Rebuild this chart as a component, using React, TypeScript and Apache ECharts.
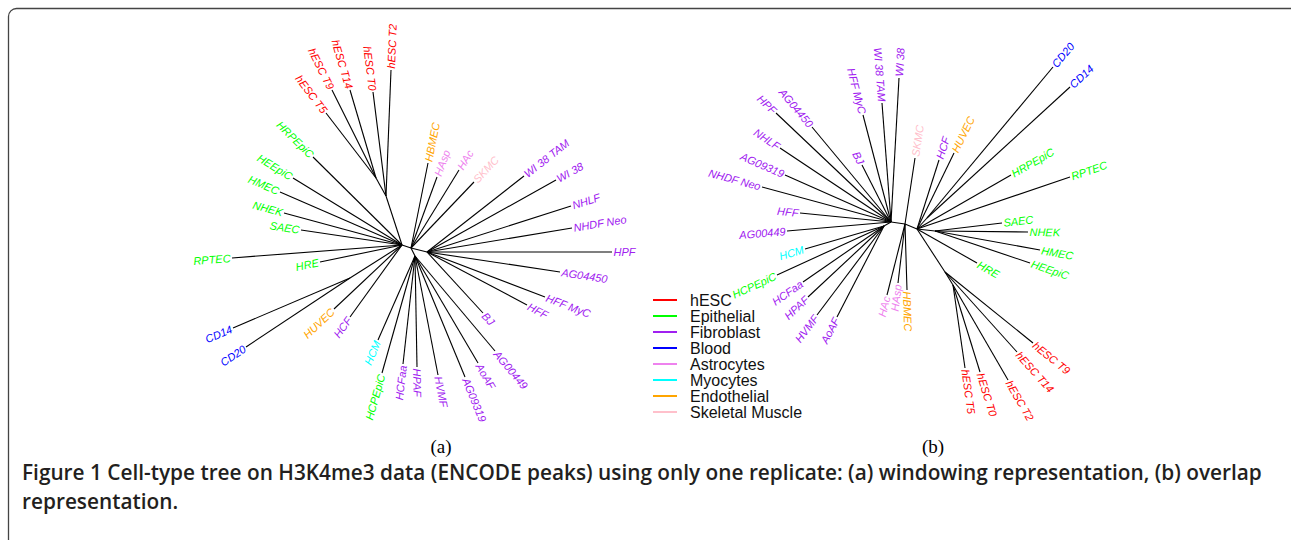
import React, { useEffect, useRef } from "react";
import * as echarts from "echarts";

// ---- groups / legend ----
const groups = ["hESC", "Epithelial", "Fibroblast", "Blood", "Astrocytes", "Myocytes", "Endothelial", "Skeletal Muscle"];
const groupColors = ["#FF0000", "#00FF00", "#A020F0", "#0000FF", "#EE82EE", "#00FFFF", "#FFA500", "#FFC0CB"];

// ---- panel (a): windowing representation ----
const aInnerNames = ["a0", "a1", "a2", "a3", "aH", "aH2", "aB"];
const aInnerX = [0, 9, 13, 25, -16, -26, -52];
const aInnerY = [0, -3, -11, -7, 49, 67, -33];
const aInnerParent = ["", "a0", "a1", "a1", "a0", "aH", "a0"];

const aLeafNames = [
  "hESC T2", "hESC T0", "hESC T14", "hESC T9", "hESC T5",
  "HRPEpiC", "HEEpiC", "HMEC", "NHEK", "SAEC", "RPTEC", "HRE",
  "CD14", "CD20", "HUVEC", "HCF", "HCM", "HCPEpiC", "HCFaa", "HPAF", "HVMF",
  "AG09319", "AoAF", "AG00449", "BJ", "HFF", "HFF MyC", "AG04450", "HPF",
  "NHDF Neo", "NHLF", "WI 38", "WI 38 TAM", "SKMC", "HAc", "HAsp", "HBMEC",
];
const aLeafGroup = [
  0, 0, 0, 0, 0,
  1, 1, 1, 1, 1, 1, 1,
  3, 3, 6, 2, 5, 1, 2, 2, 2,
  2, 2, 2, 2, 2, 2, 2, 2,
  2, 2, 2, 2, 7, 4, 4, 6,
];
const aLeafX = [
  -11, -29, -52, -70, -76,
  -89, -109, -122, -118, -101, -170, -82,
  -169, -156, -68, -52, -24, -20, 1, 15, 36,
  63, 76, 93, 81, 125, 143, 158, 210,
  170, 169, 154, 122, 72, 57, 35, 26,
];
const aLeafY = [
  175, 153, 155, 155, 132,
  88, 67, 53, 32, 15, -13, -17,
  -83, -102, -64, -72, -95, -128, -119, -122, -130,
  -132, -118, -106, -68, -60, -52, -27, -7,
  17, 39, 65, 69, 63, 75, 68, 82,
];
const aLeafParent = [
  "aH", "aH", "aH2", "aH2", "aH2",
  "a0", "a0", "a0", "a0", "a0", "a0", "a0",
  "aB", "aB", "a0", "a0", "a2", "a2", "a2", "a2", "a2",
  "a2", "a2", "a2", "a3", "a3", "a3", "a3", "a3",
  "a3", "a3", "a3", "a3", "a1", "a1", "a1", "a1",
];

// ---- panel (b): overlap representation ----
const bInnerNames = ["b0", "bL", "b1", "b2", "bB", "bH", "bH2", "bE"];
const bInnerX = [0, -7, 14, 26, 36, 54, 62, 44];
const bInnerY = [0, -4, -2, -7, 4, -50, -63, -9];
const bInnerParent = ["", "b0", "b0", "b1", "b2", "b2", "bH", "b2"];

const bLeafNames = [
  "WI 38", "WI 38 TAM", "HFF MyC", "BJ", "AG04450", "HPF", "NHLF", "AG09319", "NHDF Neo", "HFF", "AG00449",
  "HCM", "HCPEpiC", "HCFaa", "HPAF", "HVMF", "AoAF",
  "HAc", "HAsp", "HBMEC", "SKMC", "HCF", "HUVEC", "CD20", "CD14",
  "HRPEpiC", "RPTEC", "SAEC", "NHEK", "HMEC", "HEEpiC", "HRE",
  "hESC T9", "hESC T14", "hESC T2", "hESC T0", "hESC T5",
];
const bLeafGroup = [
  2, 2, 2, 2, 2, 2, 2, 2, 2, 2, 2,
  5, 1, 2, 2, 2, 2,
  4, 4, 6, 7, 2, 6, 3, 3,
  1, 1, 1, 1, 1, 1, 1,
  0, 0, 0, 0, 0,
];
const bLeafX = [
  8, -9, -28, -29, -79, -115, -111, -106, -129, -91, -104,
  -86, -114, -88, -83, -74, -54,
  -4, 7, 16, 24, 48, 63, 162, 179,
  120, 179, 111, 137, 149, 139, 86,
  142, 126, 117, 89, 74,
];
const bLeafY = [
  144, 119, 107, 57, 95, 109, 74, 47, 35, 9, -9,
  -27, -53, -60, -75, -93, -95,
  -73, -61, -68, 64, 62, 69, 155, 135,
  47, 45, -1, -10, -28, -41, -41,
  -121, -130, -158, -150, -146,
];
const bLeafParent = [
  "b0", "b0", "b0", "b0", "b0", "b0", "b0", "b0", "b0", "b0", "b0",
  "bL", "bL", "bL", "bL", "bL", "bL",
  "b1", "b1", "b1", "b1", "b2", "b2", "bB", "bB",
  "b2", "b2", "bE", "bE", "bE", "bE", "b2",
  "bH", "bH", "bH2", "bH2", "bH2",
];

const panelLabels = ["(a)", "(b)"];
const captionLines = [
  "Figure 1 Cell-type tree on H3K4me3 data (ENCODE peaks) using only one replicate: (a) windowing representation, (b) overlap",
  "representation.",
];

const LABEL_FONT = 'italic 11px "Liberation Sans", Arial, Helvetica, sans-serif';

function innerSeries(names: string[], xs: number[], ys: number[], parents: string[], axis: number) {
  const data: number[][] = [];
  names.forEach((n, i) => {
    const pi = names.indexOf(parents[i]);
    if (pi < 0) return;
    data.push([xs[i], ys[i], xs[pi], ys[pi]]);
  });
  return {
    type: "custom",
    name: "edges" + axis,
    xAxisIndex: axis,
    yAxisIndex: axis,
    silent: true,
    dimensions: ["x", "y", "px", "py"],
    encode: { x: [0, 2], y: [1, 3] },
    data,
    renderItem: (params: any, api: any) => {
      const p = api.coord([api.value(0), api.value(1)]);
      const q = api.coord([api.value(2), api.value(3)]);
      return {
        type: "line",
        shape: { x1: q[0], y1: q[1], x2: p[0], y2: p[1] },
        style: { stroke: "#000", lineWidth: 1.1 },
      };
    },
  };
}

function leafSeries(
  innerNames: string[], innerX: number[], innerY: number[],
  leafNames: string[], leafGroup: number[], leafX: number[], leafY: number[], leafParent: string[],
  axis: number,
) {
  return groups.map((g, gi) => {
    const names: string[] = [];
    const data: number[][] = [];
    leafNames.forEach((n, i) => {
      if (leafGroup[i] !== gi) return;
      const pi = innerNames.indexOf(leafParent[i]);
      names.push(n);
      data.push([leafX[i], leafY[i], innerX[pi], innerY[pi]]);
    });
    const color = groupColors[gi];
    return {
      type: "custom",
      name: g,
      xAxisIndex: axis,
      yAxisIndex: axis,
      silent: true,
      itemStyle: { color },
      dimensions: ["x", "y", "px", "py"],
      encode: { x: [0, 2], y: [1, 3] },
      data,
      renderItem: (params: any, api: any) => {
        const p = api.coord([api.value(0), api.value(1)]);
        const q = api.coord([api.value(2), api.value(3)]);
        const dx = p[0] - q[0];
        const dy = p[1] - q[1];
        const len = Math.hypot(dx, dy) || 1;
        const ux = dx / len;
        const uy = dy / len;
        const ang = Math.atan2(-dy, dx);
        const right = dx >= 0;
        const rot = right ? ang : ang + Math.PI;
        return {
          type: "group",
          children: [
            {
              type: "line",
              shape: { x1: q[0], y1: q[1], x2: p[0], y2: p[1] },
              style: { stroke: "#000", lineWidth: 1.1 },
            },
            {
              type: "text",
              x: p[0] + ux * 1.5,
              y: p[1] + uy * 1.5,
              rotation: rot,
              style: {
                text: names[params.dataIndex],
                fill: color,
                font: LABEL_FONT,
                align: right ? "left" : "right",
                verticalAlign: "middle",
                textAlign: right ? "left" : "right",
                textVerticalAlign: "middle",
              },
            },
          ],
        };
      },
    };
  });
}

const captionStyle = {
  fontFamily: '"Open Sans", "Noto Sans", sans-serif',
  fontWeight: 600,
  fontSize: 20.8,
  lineHeight: 22,
  color: "#231f20",
};

const panelLabelStyle = {
  fontFamily: '"Liberation Serif", "Times New Roman", serif',
  fontWeight: "normal",
  fontSize: 19,
  color: "#000",
};

export default function App() {
  const ref = useRef<HTMLDivElement>(null);
  useEffect(() => {
    if (!ref.current) return;
    const chart = echarts.init(ref.current, undefined, { renderer: "svg" });
    const option: any = {
      animation: false,
      backgroundColor: "#ffffff",
      grid: [
        { left: 152, top: 45, width: 500, height: 400 },
        { left: 641, top: 22, width: 500, height: 400 },
      ],
      xAxis: [
        { gridIndex: 0, type: "value", min: -250, max: 250, show: false },
        { gridIndex: 1, type: "value", min: -250, max: 250, show: false },
      ],
      yAxis: [
        { gridIndex: 0, type: "value", min: -200, max: 200, show: false },
        { gridIndex: 1, type: "value", min: -200, max: 200, show: false },
      ],
      legend: {
        data: groups.map((g) => ({ name: g })),
        orient: "vertical",
        left: 653,
        top: 292,
        padding: 0,
        itemGap: 0,
        itemWidth: 24,
        itemHeight: 2,
        icon: "rect",
        selectedMode: false,
        textStyle: {
          color: "#111",
          fontSize: 16,
          fontFamily: '"Liberation Sans", Arial, Helvetica, sans-serif',
          padding: [0, 0, 0, 8],
        },
      },
      title: [
        { text: panelLabels[0], left: 441, top: 437, textAlign: "center", padding: 0, textStyle: panelLabelStyle },
        { text: panelLabels[1], left: 933, top: 437, textAlign: "center", padding: 0, textStyle: panelLabelStyle },
        { text: captionLines[0], left: 22, top: 461, padding: 0, textStyle: captionStyle },
        { text: captionLines[1], left: 22, top: 490, padding: 0, textStyle: captionStyle },
      ],
      graphic: [
        {
          type: "rect",
          x: 8.5,
          y: 8.5,
          silent: true,
          shape: { x: 0, y: 0, width: 1400, height: 700, r: 8 },
          style: { fill: "none", stroke: "#444", lineWidth: 1.3 },
        },
      ],
      series: [
        innerSeries(aInnerNames, aInnerX, aInnerY, aInnerParent, 0),
        ...leafSeries(aInnerNames, aInnerX, aInnerY, aLeafNames, aLeafGroup, aLeafX, aLeafY, aLeafParent, 0),
        innerSeries(bInnerNames, bInnerX, bInnerY, bInnerParent, 1),
        ...leafSeries(bInnerNames, bInnerX, bInnerY, bLeafNames, bLeafGroup, bLeafX, bLeafY, bLeafParent, 1),
      ],
    };
    chart.setOption(option);
    return () => chart.dispose();
  }, []);
  return (
    <div
      ref={ref}
      style={{ position: "fixed", left: 0, top: 0, width: "1291px", height: "540px", background: "#fff" }}
    />
  );
}
